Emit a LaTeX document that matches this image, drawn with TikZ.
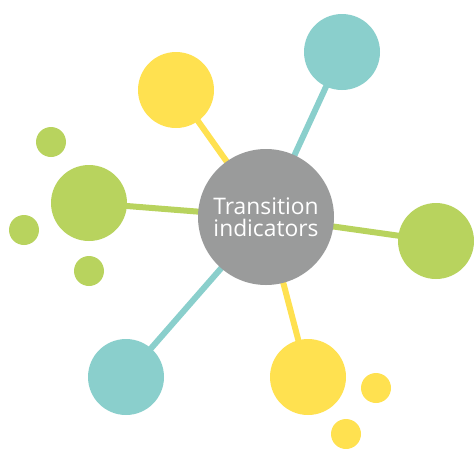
\documentclass[tikz,border=0pt]{standalone}
\usepackage{fontspec}
\setmainfont{Open Sans}
\usetikzlibrary{backgrounds}
\definecolor{cyel}{HTML}{FFE150}
\definecolor{cteal}{HTML}{8ACFCC}
\definecolor{cgreen}{HTML}{B8D35E}
\definecolor{cgray}{HTML}{9A9B9B}
\begin{document}
\begin{tikzpicture}[x=1pt,y=-1pt,
  big/.style={circle,inner sep=0pt,minimum size=76pt},
  small/.style={circle,inner sep=0pt,minimum size=30pt},
  hub/.style={circle,fill=cgray,inner sep=0pt,minimum size=136pt,text=white,align=center,font=\fontsize{22.8}{22.5}\selectfont},
  spoke/.style={line width=6pt}]
\useasboundingbox (0,0) rectangle (474,448);
\node[hub] (hub) at (266,217) {Transition\\indicators};
\node[big,fill=cyel] (ny1) at (176,90) {};
\node[big,fill=cteal] (nt1) at (342,52) {};
\node[big,fill=cgreen] (ng1) at (89,203) {};
\node[big,fill=cgreen] (ng2) at (436,241) {};
\node[big,fill=cteal] (nt2) at (126,377) {};
\node[big,fill=cyel] (ny2) at (308,377) {};
\node[small,fill=cgreen] (s1) at (51,142) {};
\node[small,fill=cgreen] (s2) at (24,230) {};
\node[small,fill=cgreen] (s3) at (89,271) {};
\node[small,fill=cyel] (s4) at (376,388) {};
\node[small,fill=cyel] (s5) at (346,434) {};
\begin{scope}[on background layer]
\draw[spoke,cyel] (hub.center) -- (ny1.center);
\draw[spoke,cteal] (hub.center) -- (nt1.center);
\draw[spoke,cgreen] (hub.center) -- (ng1.center);
\draw[spoke,cgreen] (hub.center) -- (ng2.center);
\draw[spoke,cteal] (hub.center) -- (nt2.center);
\draw[spoke,cyel] (hub.center) -- (ny2.center);
\end{scope}
\end{tikzpicture}
\end{document}
